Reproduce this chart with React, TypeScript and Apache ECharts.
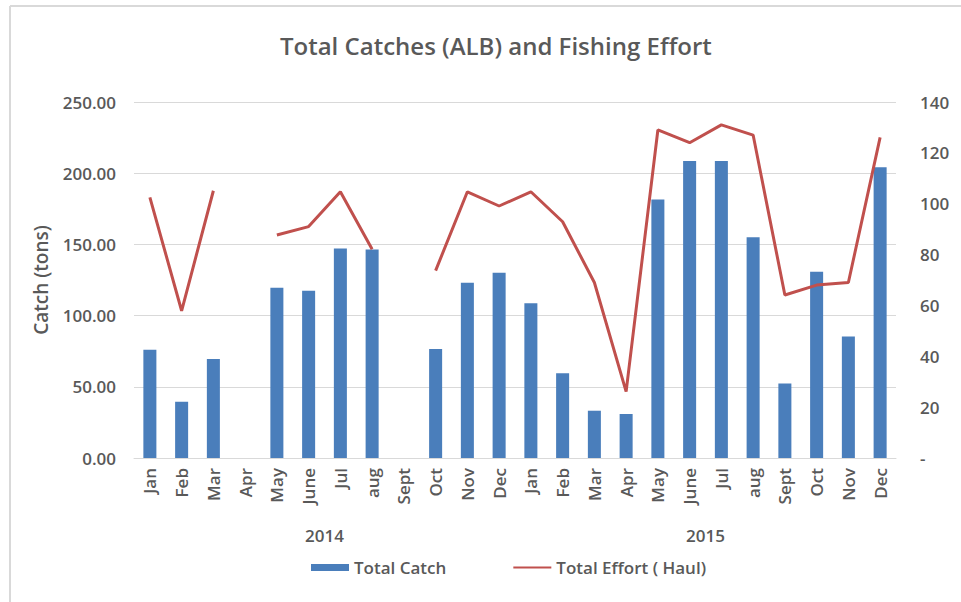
import React, { useEffect, useRef } from "react";
import * as echarts from "echarts";

const months = ["Jan","Feb","Mar","Apr","May","June","Jul","aug","Sept","Oct","Nov","Dec","Jan","Feb","Mar","Apr","May","June","Jul","aug","Sept","Oct","Nov","Dec"];
const years = ["2014", "2015"];
const totalCatch = [76, 39.5, 69.5, null, 119.6, 117.5, 147.2, 146.5, null, 76.5, 123.1, 130.1, 108.6, 59.5, 33.2, 30.9, 181.6, 208.5, 208.5, 155, 52.4, 130.8, 85.4, 204.1];
const totalEffort = [102.5, 57.9, 105.1, null, 87.7, 91, 104.7, 82.1, null, 73.7, 104.7, 99.1, 104.7, 92.9, 69, 26.1, 129, 124, 131, 127, 64.1, 68, 69, 126.1];
const leftTicks = { min: 0, max: 250, interval: 50 };
const rightTicks = { min: 0, max: 140, interval: 20 };

const FONT = "'Open Sans', 'Noto Sans', sans-serif";
const GREY = "#595959";

export default function App() {
  const ref = useRef<HTMLDivElement>(null);
  useEffect(() => {
    if (!ref.current) return;
    const chart = echarts.init(ref.current, undefined, { renderer: "svg" });
    chart.setOption({
      animation: false,
      backgroundColor: "#ffffff",
      textStyle: { fontFamily: FONT },
      title: {
        text: "Total Catches (ALB) and Fishing Effort",
        left: 275,
        top: 28,
        textStyle: { fontFamily: FONT, fontSize: 24, fontWeight: 600, color: GREY },
      },
      grid: { left: 134, right: 65, top: 102, bottom: 144, containLabel: false },
      legend: {
        bottom: 21,
        left: 306,
        itemGap: 66,
        itemWidth: 38,
        itemHeight: 7,
        textStyle: { fontFamily: FONT, fontSize: 17, fontWeight: 600, color: GREY },
        data: [
          { name: "Total Catch", icon: "rect" },
          { name: "Total Effort ( Haul)" },
        ],
      },
      xAxis: [
        {
          type: "category",
          data: months,
          axisLine: { lineStyle: { color: "#d9d9d9" } },
          axisTick: { show: false },
          axisLabel: {
            rotate: 90,
            interval: 0,
            margin: 10,
            fontFamily: FONT,
            fontSize: 17,
            fontWeight: 600,
            color: GREY,
          },
        },
        {
          type: "category",
          data: years,
          position: "bottom",
          offset: 62,
          axisLine: { show: false },
          axisTick: { show: false },
          axisLabel: { fontFamily: FONT, fontSize: 17, fontWeight: 600, color: GREY, margin: 7 },
        },
      ],
      yAxis: [
        {
          type: "value",
          ...leftTicks,
          name: "Catch (tons)",
          nameLocation: "middle",
          nameGap: 84,
          nameTextStyle: { fontFamily: FONT, fontSize: 19, fontWeight: 600, color: GREY },
          axisLine: { show: false },
          axisTick: { show: false },
          splitLine: { lineStyle: { color: "#d9d9d9" } },
          axisLabel: {
            margin: 18,
            fontFamily: FONT,
            fontSize: 17,
            fontWeight: 600,
            color: GREY,
            formatter: (v: number) => v.toFixed(2),
          },
        },
        {
          type: "value",
          ...rightTicks,
          position: "right",
          axisLine: { show: false },
          axisTick: { show: false },
          splitLine: { show: false },
          axisLabel: {
            margin: 24,
            fontFamily: FONT,
            fontSize: 17,
            fontWeight: 600,
            color: GREY,
            formatter: (v: number) => (v === 0 ? "-" : String(v)),
          },
        },
      ],
      series: [
        {
          name: "Total Catch",
          type: "bar",
          xAxisIndex: 0,
          yAxisIndex: 0,
          data: totalCatch,
          barWidth: "41%",
          itemStyle: { color: "#4a7ebb" },
        },
        {
          name: "Total Effort ( Haul)",
          type: "line",
          xAxisIndex: 0,
          yAxisIndex: 1,
          data: totalEffort,
          connectNulls: false,
          showSymbol: false,
          symbol: "line",
          lineStyle: { color: "#c0504d", width: 3 },
          itemStyle: { color: "#c0504d" },
        },
      ],
      graphic: [
        { type: "line", shape: { x1: 10, y1: 6, x2: 10, y2: 602 }, style: { stroke: "#d9d9d9", lineWidth: 2 } },
        { type: "line", shape: { x1: 10, y1: 6, x2: 961, y2: 6 }, style: { stroke: "#d9d9d9", lineWidth: 2 } },
      ],
    });
    return () => chart.dispose();
  }, []);
  return (
    <div
      ref={ref}
      style={{ position: "fixed", left: 0, top: 0, width: 961, height: 602 }}
    />
  );
}
